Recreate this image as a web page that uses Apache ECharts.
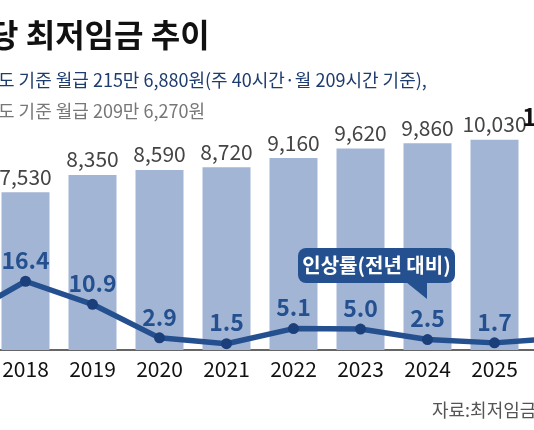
<!DOCTYPE html>
<html>
<head>
<meta charset="utf-8">
<script src="https://cdn.jsdelivr.net/npm/echarts@6/dist/echarts.min.js"></script>
<style>
  html, body { margin: 0; padding: 0; background: #fff; }
  #chart { width: 534px; height: 430px; }
</style>
</head>
<body>
<div id="chart"></div>
<script>
// 연도별 시간당 최저임금 (원) / 인상률 (%)
let years = ['2017', '2018', '2019', '2020', '2021', '2022', '2023', '2024', '2025', '2026'];
let wages = [6470, 7530, 8350, 8590, 8720, 9160, 9620, 9860, 10030, 10320];
let rates = [7.3, 16.4, 10.9, 2.9, 1.5, 5.1, 5.0, 2.5, 1.7, 2.9];

let titleText = '당 최저임금 추이';
let subText1 = '도 기준 월급 215만 6,880원(주 40시간·월 209시간 기준),';
let subText2 = '도 기준 월급 209만 6,270원';
let sourceText = '자료:최저임금위원회';
let calloutText = '인상률(전년 대비)';

let font = '"Noto Sans CJK KR", "Noto Sans", sans-serif';
let lineColor = '#24508f';

let chart = echarts.init(document.getElementById('chart'), null, { renderer: 'canvas' });

// 마지막 연도 막대 라벨만 굵게
let wageData = wages.map(function (v, i) {
    if (i === wages.length - 1) {
        return { value: v, label: { color: '#111', fontWeight: 'bold', fontSize: 24 } };
    }
    return v;
});

chart.setOption({
    backgroundColor: '#fff',
    animation: false,
    textStyle: { fontFamily: font },
    grid: {
        left: -75, right: -61, top: 98.5, bottom: 80,
        containLabel: false,
        outerBoundsMode: 'none'
    },
    xAxis: {
        type: 'category',
        data: years,
        axisLine: { lineStyle: { color: '#666', width: 2 } },
        axisTick: { show: false },
        axisLabel: { color: '#111', fontSize: 21, margin: 9, fontFamily: font }
    },
    yAxis: [{
        type: 'value', min: 0, max: 12000, show: false, splitLine: { show: false }
    }, {
        type: 'value', min: 0, max: 60, show: false, splitLine: { show: false }
    }],
    series: [{
        type: 'bar',
        data: wageData,
        barWidth: 48,
        itemStyle: { color: '#a3b5d5' },
        label: {
            show: true,
            position: 'top',
            distance: 5,
            fontSize: 21,
            color: '#444',
            fontFamily: font,
            formatter: function (p) { return p.value.toLocaleString('en-US'); }
        },
        z: 1
    }, {
        type: 'line',
        yAxisIndex: 1,
        data: rates,
        lineStyle: { color: lineColor, width: 5.5 },
        itemStyle: { color: '#1b3f7a' },
        symbol: 'circle',
        symbolSize: 11,
        label: {
            show: true,
            position: 'top',
            distance: 4,
            fontSize: 23,
            fontWeight: 'bold',
            color: lineColor,
            fontFamily: font,
            formatter: function (p) { return p.value.toFixed(1); }
        },
        z: 3
    }],
    graphic: [{
        type: 'text', left: -11, top: 19,
        style: { text: titleText, fill: '#111', font: 'bold 32px ' + font }
    }, {
        type: 'text', left: -2, top: 71,
        style: { text: subText1, fill: '#1f3c6e', font: '18px ' + font }
    }, {
        type: 'text', left: -2, top: 102,
        style: { text: subText2, fill: '#777', font: '18px ' + font }
    }, {
        type: 'rect', shape: { x: 298, y: 248, width: 157, height: 35, r: 8 },
        style: { fill: lineColor }, z: 10
    }, {
        type: 'polygon', shape: { points: [[406, 282], [427, 282], [427, 299]] },
        style: { fill: lineColor }, z: 10
    }, {
        type: 'text', x: 432, y: 410, z: 11,
        style: { text: sourceText, fill: '#555', font: '18px ' + font, verticalAlign: 'middle' }
    }, {
        type: 'text', x: 376.5, y: 265.5, z: 11,
        style: { text: calloutText, fill: '#fff', font: 'bold 20px ' + font, align: 'center', verticalAlign: 'middle' }
    }]
});
</script>
</body>
</html>
